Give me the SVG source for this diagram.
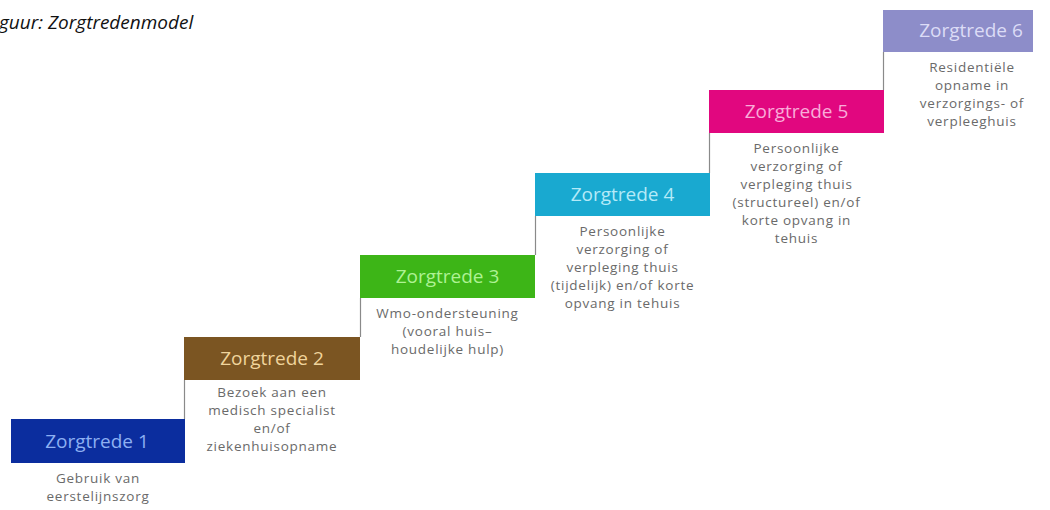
<svg xmlns="http://www.w3.org/2000/svg" width="1050" height="510" viewBox="0 0 1050 510">
<style>
.title{font-family:"Open Sans","Noto Sans",sans-serif;font-style:italic;font-size:19px;fill:#111}
.box-t{font-family:"Open Sans","Noto Sans",sans-serif;font-size:19px;text-anchor:middle}
.desc{font-family:"Open Sans","Noto Sans",sans-serif;font-size:13.5px;letter-spacing:0.75px;fill:#6a6a6a;text-anchor:middle}
.conn{stroke:#8a8a8a;stroke-width:1.2;fill:none}
</style>
<rect width="1050" height="510" fill="#fff"/>
<text class="title" x="-1" y="29">guur: Zorgtredenmodel</text>
<g id="connectors">
<line class="conn" x1="184.5" y1="380" x2="184.5" y2="419"/>
<line class="conn" x1="360.5" y1="298" x2="360.5" y2="337"/>
<line class="conn" x1="535.5" y1="216" x2="535.5" y2="255"/>
<line class="conn" x1="709.5" y1="133" x2="709.5" y2="173"/>
<line class="conn" x1="883.5" y1="52" x2="883.5" y2="90"/>
</g>
<g id="trede1">
<rect x="11" y="419" width="174" height="44" fill="#0b2d9e"/>
<text class="box-t" x="97" y="448" fill="#8db0f2">Zorgtrede 1</text>
<text class="desc" x="98" y="483">Gebruik van</text>
<text class="desc" x="98" y="501">eerstelijnszorg</text>
</g>
<g id="trede2">
<rect x="184" y="337" width="176" height="43" fill="#7b5522"/>
<text class="box-t" x="272" y="365" fill="#f0d49c">Zorgtrede 2</text>
<text class="desc" x="272" y="397">Bezoek aan een</text>
<text class="desc" x="272" y="415">medisch specialist</text>
<text class="desc" x="272" y="433">en/of</text>
<text class="desc" x="272" y="451">ziekenhuisopname</text>
</g>
<g id="trede3">
<rect x="360" y="255" width="175" height="43" fill="#3db517"/>
<text class="box-t" x="447.5" y="283" fill="#aef294">Zorgtrede 3</text>
<text class="desc" x="447.5" y="318">Wmo-ondersteuning</text>
<text class="desc" x="447.5" y="336">(vooral huis–</text>
<text class="desc" x="447.5" y="354">houdelijke hulp)</text>
</g>
<g id="trede4">
<rect x="535" y="173" width="175" height="43" fill="#19a9d0"/>
<text class="box-t" x="622.5" y="201" fill="#b4eaf8">Zorgtrede 4</text>
<text class="desc" x="622.5" y="236">Persoonlijke</text>
<text class="desc" x="622.5" y="254">verzorging of</text>
<text class="desc" x="622.5" y="272">verpleging thuis</text>
<text class="desc" x="622.5" y="290">(tijdelijk) en/of korte</text>
<text class="desc" x="622.5" y="308">opvang in tehuis</text>
</g>
<g id="trede5">
<rect x="709" y="90" width="175" height="43" fill="#e1077f"/>
<text class="box-t" x="796.5" y="118" fill="#f9acd9">Zorgtrede 5</text>
<text class="desc" x="796.5" y="153">Persoonlijke</text>
<text class="desc" x="796.5" y="171">verzorging of</text>
<text class="desc" x="796.5" y="189">verpleging thuis</text>
<text class="desc" x="796.5" y="207">(structureel) en/of</text>
<text class="desc" x="796.5" y="225">korte opvang in</text>
<text class="desc" x="796.5" y="243">tehuis</text>
</g>
<g id="trede6">
<rect x="883" y="10" width="150" height="42" fill="#8d8dc9"/>
<text class="box-t" x="971" y="37" fill="#dcdcf6">Zorgtrede 6</text>
<text class="desc" x="972" y="72">Residentiële</text>
<text class="desc" x="972" y="90">opname in</text>
<text class="desc" x="972" y="108">verzorgings- of</text>
<text class="desc" x="972" y="126">verpleeghuis</text>
</g>
</svg>
